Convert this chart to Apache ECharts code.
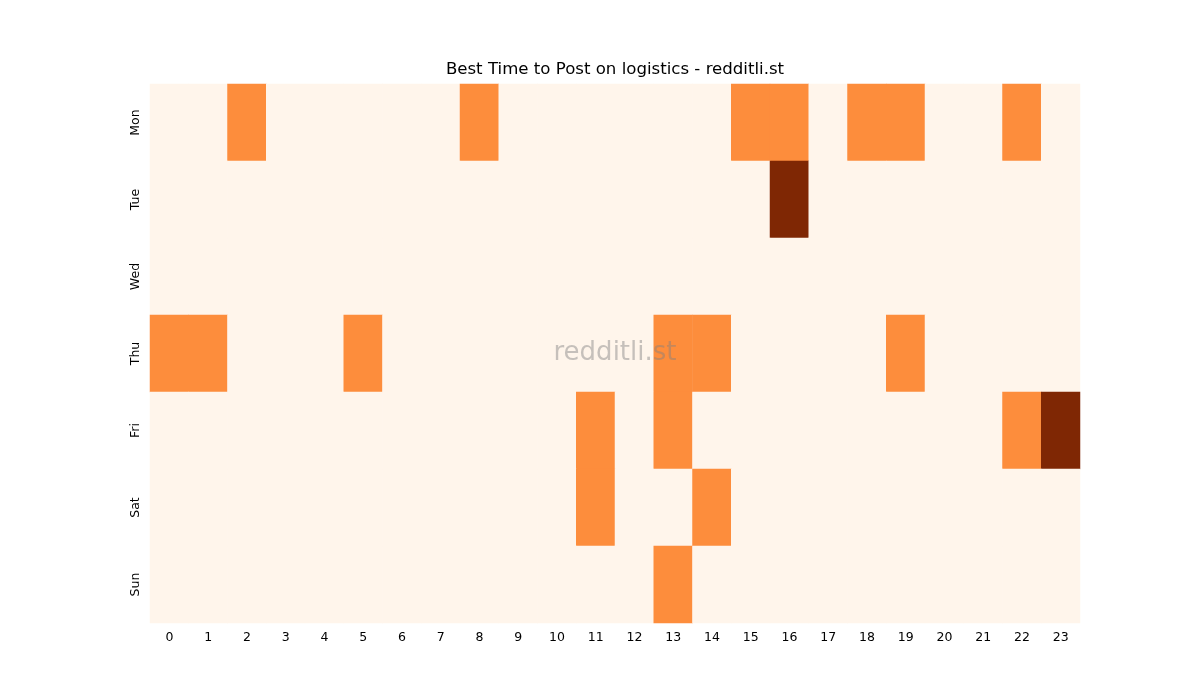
<!DOCTYPE html>
<html><head><meta charset="utf-8">
<script src="https://cdn.jsdelivr.net/npm/echarts@6/dist/echarts.min.js"></script>
<style>html,body{margin:0;padding:0;background:#fff}#c{width:1200px;height:700px}</style>
</head><body><div id="c"></div>
<script>
const hours = ['0','1','2','3','4','5','6','7','8','9','10','11','12','13','14','15','16','17','18','19','20','21','22','23'];
const days = ['Mon','Tue','Wed','Thu','Fri','Sat','Sun'];
const mon = [0,0,1,0,0,0,0,0,1,0,0,0,0,0,0,1,1,0,1,1,0,0,1,0];
const tue = [0,0,0,0,0,0,0,0,0,0,0,0,0,0,0,0,2,0,0,0,0,0,0,0];
const wed = [0,0,0,0,0,0,0,0,0,0,0,0,0,0,0,0,0,0,0,0,0,0,0,0];
const thu = [1,1,0,0,0,1,0,0,0,0,0,0,0,1,1,0,0,0,0,1,0,0,0,0];
const fri = [0,0,0,0,0,0,0,0,0,0,0,1,0,1,0,0,0,0,0,0,0,0,1,2];
const sat = [0,0,0,0,0,0,0,0,0,0,0,1,0,0,1,0,0,0,0,0,0,0,0,0];
const sun = [0,0,0,0,0,0,0,0,0,0,0,0,0,1,0,0,0,0,0,0,0,0,0,0];
const rows = [mon,tue,wed,thu,fri,sat,sun];
const data = [];
rows.forEach((r,d)=>r.forEach((v,h)=>data.push([h,d,v])));
const chart = echarts.init(document.getElementById('c'));
chart.setOption({
  animation:false,
  grid:{left:150,right:120,top:84,bottom:77},
  xAxis:{type:'category',data:hours,axisLine:{show:false},
    axisTick:{alignWithLabel:true,length:4,lineStyle:{color:'#000'}},
    axisLabel:{fontFamily:'DejaVu Sans',fontSize:12.5,color:'#000',margin:8},splitArea:{show:false}},
  yAxis:{type:'category',data:days,inverse:true,axisLine:{show:false},
    axisTick:{alignWithLabel:true,length:4,lineStyle:{color:'#000'}},
    axisLabel:{fontFamily:'DejaVu Sans',fontSize:12.5,color:'#000',rotate:90,margin:8}},
  visualMap:{show:false,type:'piecewise',dimension:2,
    pieces:[{value:0,color:'#fff5eb'},{value:1,color:'#fd8d3c'},{value:2,color:'#7f2704'}]},
  series:[{type:'heatmap',data:data,itemStyle:{borderWidth:0}}],
  graphic:[
    {type:'text',x:615,y:70,z:100,
      style:{text:'Best Time to Post on logistics - redditli.st',align:'center',verticalAlign:'middle',fontFamily:'DejaVu Sans',fontSize:16.6,fill:'#000'}},
    {type:'text',x:615,y:353,z:100,
      style:{text:'redditli.st',align:'center',verticalAlign:'middle',fontFamily:'DejaVu Sans',fontSize:26,fill:'rgba(128,128,128,0.45)'}}]
});
</script></body></html>
